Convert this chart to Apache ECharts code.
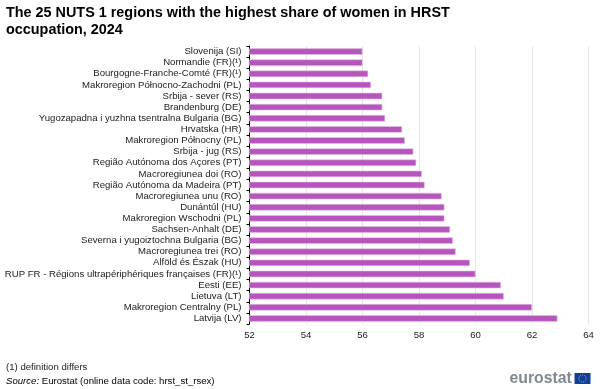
<!DOCTYPE html>
<html><head><meta charset="utf-8">
<style>html,body{margin:0;padding:0;background:#fff}#c{width:600px;height:389px}</style>
<script src="https://cdn.jsdelivr.net/npm/echarts@6/dist/echarts.min.js"></script>
</head><body><div id="c"></div>
<script>
const categories = ["Slovenija (SI)","Normandie (FR)(¹)","Bourgogne-Franche-Comté (FR)(¹)","Makroregion Północno-Zachodni (PL)","Srbija - sever (RS)","Brandenburg (DE)","Yugozapadna i yuzhna tsentralna Bulgaria (BG)","Hrvatska (HR)","Makroregion Północny (PL)","Srbija - jug (RS)","Região Autónoma dos Açores (PT)","Macroregiunea doi (RO)","Região Autónoma da Madeira (PT)","Macroregiunea unu (RO)","Dunántúl (HU)","Makroregion Wschodni (PL)","Sachsen-Anhalt (DE)","Severna i yugoiztochna Bulgaria (BG)","Macroregiunea trei (RO)","Alföld és Észak (HU)","RUP FR - Régions ultrapériphériques françaises (FR)(¹)","Eesti (EE)","Lietuva (LT)","Makroregion Centralny (PL)","Latvija (LV)"];
const values = [56.0,56.0,56.2,56.3,56.7,56.7,56.8,57.4,57.5,57.8,57.9,58.1,58.2,58.8,58.9,58.9,59.1,59.2,59.3,59.8,60.0,60.9,61.0,62.0,62.9];
const titleLines = "The 25 NUTS 1 regions with the highest share of women in HRST\noccupation, 2024";
const F = "Liberation Sans, Arial, sans-serif";
const chart = echarts.init(document.getElementById('c'), null, {renderer:'canvas'});
chart.setOption({
  animation:false,
  backgroundColor:'#fff',
  title:{text:titleLines,left:6,top:5,padding:0,textStyle:{fontFamily:F,fontSize:14.4,fontWeight:'bold',color:'#000',lineHeight:16.5}},
  grid:{left:249.5,right:11.5,top:46,bottom:65,containLabel:false},
  xAxis:{type:'value',min:52,max:64,interval:2,position:'bottom',
    axisLine:{show:false},axisTick:{show:false},
    axisLabel:{fontFamily:F,fontSize:9.6,color:'#222',margin:6,hideOverlap:false},
    splitLine:{show:true,lineStyle:{color:'#e6e6e6',width:1}}},
  yAxis:{type:'category',inverse:true,data:categories,
    axisLine:{show:true,lineStyle:{color:'#000',width:1}},
    axisTick:{show:true,length:3,lineStyle:{color:'#000',width:1},alignWithLabel:false},
    axisLabel:{fontFamily:F,fontSize:9.6,color:'#222',margin:8,interval:0}},
  series:[{type:'bar',data:values,barWidth:6.5,
    itemStyle:{color:'#b656bd',borderColor:'#e3bfe6',borderWidth:0.6},silent:true}],
  graphic:[
    {type:'text',left:6,top:362,style:{text:'(1) definition differs',font:'9.6px '+F,fill:'#222'}},
    {type:'text',left:6,top:376,style:{rich:{i:{fontStyle:'italic',fontFamily:F,fontSize:9.6,color:'#222'},n:{fontFamily:F,fontSize:9.6,color:'#222'}},text:'{i|Source:}{n| Eurostat (online data code: hrst_st_rsex)}'}},
    {type:'text',left:509.5,top:371,style:{text:'eurostat',font:'bold 15.8px '+F,fill:'#808890'}},
    {type:'rect',shape:{x:574.5,y:373,width:16,height:11},style:{fill:'#10409a'}},
    {type:'circle',shape:{cx:582.5,cy:378.5,r:3.6},style:{fill:'none',stroke:'#d8b31e',lineWidth:1,lineDash:[1,1]}}
  ]
});
</script></body></html>
